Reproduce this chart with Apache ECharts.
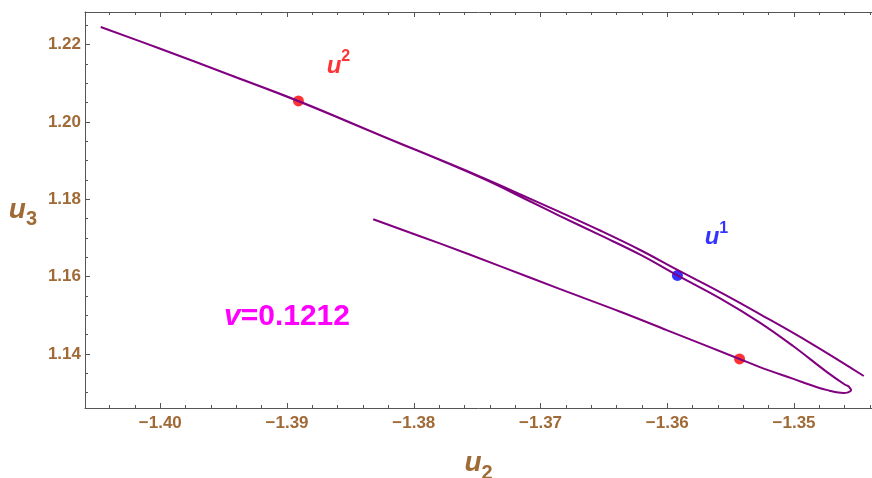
<!DOCTYPE html>
<html>
<head>
<meta charset="utf-8">
<script src="https://cdn.jsdelivr.net/npm/echarts@6/dist/echarts.min.js"></script>
<style>
html,body{margin:0;padding:0;background:#fff;}
#chart{width:872px;height:478px;}
</style>
</head>
<body>
<div id="chart"></div>
<script>
// ---- data ----
// trajectory: start -> lower branch -> tip
const branchA = [[-1.3832,1.1748],[-1.3779,1.1685],[-1.3732,1.1627],[-1.3685,1.1568],[-1.3637,1.1509],[-1.3600,1.1461],
  [-1.3543,1.1387],[-1.3527,1.1366],[-1.3501,1.1336],[-1.3480,1.1312],[-1.3472,1.1305],[-1.3465,1.1300],
  [-1.3461,1.1299],[-1.3458,1.1300],[-1.3456,1.1303],[-1.3455,1.1307]];
// tip -> back up to the upper-left end
const branchB = [[-1.3456,1.1312],[-1.3457,1.1316],[-1.3460,1.1321],[-1.3474,1.1353],[-1.3501,1.1421],[-1.3527,1.1481],
  [-1.3558,1.1543],[-1.3592,1.1603],[-1.3621,1.1656],[-1.3653,1.1707],[-1.3685,1.1757],[-1.3708,1.1794],
  [-1.3748,1.1857],[-1.3827,1.1966],[-1.3891,1.2054],[-1.3945,1.2121],[-1.4000,1.2189],[-1.4047,1.2245]];
// upper-left end -> back down to the right end
const branchC = [[-1.4000,1.2189],[-1.3945,1.2121],[-1.3891,1.2053],[-1.3827,1.1966],[-1.3748,1.1859],[-1.3708,1.1801],
  [-1.3685,1.1767],[-1.3653,1.1719],[-1.3621,1.1668],[-1.3592,1.1617],[-1.3558,1.1559],[-1.3527,1.1503],
  [-1.3487,1.1428],[-1.3445,1.1343]];
const redPoints = [[-1.3891,1.2054],[-1.3543,1.1387]];
const bluePoints = [[-1.3592,1.1603]];
const xTicks = [-1.40,-1.39,-1.38,-1.37,-1.36,-1.35];
const yTicks = [1.14,1.16,1.18,1.20,1.22];
const xMinorTicks = [-1.404,-1.402,-1.398,-1.396,-1.394,-1.392,-1.388,-1.386,-1.384,-1.382,-1.378,-1.376,-1.374,-1.372,
  -1.368,-1.366,-1.364,-1.362,-1.358,-1.356,-1.354,-1.352,-1.348,-1.346,-1.344];
const yMinorTicks = [1.13,1.135,1.145,1.15,1.155,1.165,1.17,1.175,1.185,1.19,1.195,1.205,1.21,1.215,1.225];
const paramText = '0.1212';

const X_MIN = -1.40594, X_MAX = -1.34385;
const Y_MIN = 1.12602, Y_MAX = 1.22839;

const brown = '#a06a37';
const axisCol = '#555';
const fontFam = '"Liberation Sans", Arial, sans-serif';

const trajectory = branchA.concat(branchB, branchC);

function xAx(pos, ticks, len, showLine, labels) {
  return {
    type: 'value', position: pos, min: X_MIN, max: X_MAX, gridIndex: 0,
    axisLine: {show: showLine, onZero: false, lineStyle: {color: axisCol, width: 1}},
    axisTick: {show: true, inside: true, length: len, customValues: ticks, lineStyle: {color: axisCol, width: 1}},
    axisLabel: labels ? {
      show: true, customValues: ticks, margin: 7,
      formatter: v => v.toFixed(2).replace('-', '\u2212'),
      color: brown, fontSize: 17, fontWeight: 'bold', fontFamily: fontFam
    } : {show: false},
    splitLine: {show: false}
  };
}
function yAx(ticks, len, showLine, labels) {
  return {
    type: 'value', position: 'left', min: Y_MIN, max: Y_MAX, gridIndex: 0,
    axisLine: {show: showLine, onZero: false, lineStyle: {color: axisCol, width: 1}},
    axisTick: {show: true, inside: true, length: len, customValues: ticks, lineStyle: {color: axisCol, width: 1}},
    axisLabel: labels ? {
      show: true, customValues: ticks, margin: 4,
      formatter: v => v.toFixed(2),
      color: brown, fontSize: 17, fontWeight: 'bold', fontFamily: fontFam
    } : {show: false},
    splitLine: {show: false}
  };
}

const nameRich = {
  u: {fontSize: 28, fontStyle: 'italic', fontWeight: 'bold', color: brown, fontFamily: fontFam},
  s: {fontSize: 20, fontWeight: 'bold', color: brown, fontFamily: fontFam, padding: [19, 0, 0, 0]}
};
const xMain = xAx('bottom', xTicks, 5, true, true);
xMain.name = '{u|u}{s|2}';
xMain.nameLocation = 'middle';
xMain.nameGap = 36;
xMain.nameTextStyle = {rich: nameRich};
const yMain = yAx(yTicks, 5, true, true);
yMain.name = '{u|u}{s|3}';
yMain.nameLocation = 'middle';
yMain.nameRotate = 0;
yMain.nameGap = 48;
yMain.nameTextStyle = {rich: nameRich};

function supLabel(base, sup, color, offset) {
  return {
    show: true, position: 'inside', offset: offset,
    formatter: '{u|' + base + '}{s|' + sup + '}',
    rich: {
      u: {fontSize: 24, fontStyle: 'italic', fontWeight: 'bold', color: color, fontFamily: fontFam},
      s: {fontSize: 16, fontWeight: 'bold', color: color, fontFamily: fontFam, padding: [0, 0, 18, 0]}
    }
  };
}

const chart = echarts.init(document.getElementById('chart'), null, {renderer: 'canvas'});
chart.setOption({
  animation: false,
  backgroundColor: '#fff',
  grid: {left: 85, top: 12, right: 0, bottom: 70, containLabel: false, outerBoundsMode: 'none'},
  xAxis: [
    xMain,
    xAx('bottom', xMinorTicks, 3, false, false),
    xAx('top', xTicks, 5, true, false),
    xAx('top', xMinorTicks, 3, false, false)
  ],
  yAxis: [
    yMain,
    yAx(yMinorTicks, 3, false, false)
  ],
  series: [
    {
      type: 'line', xAxisIndex: 0, yAxisIndex: 0,
      data: trajectory, smooth: 0.4, showSymbol: false, symbol: 'none',
      lineStyle: {color: '#800080', width: 2}, clip: true
    },
    {
      type: 'scatter', xAxisIndex: 0, yAxisIndex: 0,
      symbolSize: 11, itemStyle: {color: '#ff0000'},
      data: redPoints.map((p, i) => i === 0 ? {value: p, label: supLabel('u', '2', '#ff0000', [40, -35])} : {value: p})
    },
    {
      type: 'scatter', xAxisIndex: 0, yAxisIndex: 0,
      symbolSize: 11, itemStyle: {color: '#0000ff'},
      data: bluePoints.map(p => ({value: p, label: supLabel('u', '1', '#0000ff', [39, -38])}))
    }
  ],
  graphic: [{
    type: 'text', left: 224, top: 302,
    style: {
      text: '{v|v}{n|=' + paramText + '}',
      rich: {
        v: {fontSize: 30, fontStyle: 'italic', fontWeight: 'bold', fill: '#ff00ff', fontFamily: fontFam},
        n: {fontSize: 30, fontWeight: 'bold', fill: '#ff00ff', fontFamily: fontFam}
      }
    }
  }]
});
</script>
</body>
</html>
